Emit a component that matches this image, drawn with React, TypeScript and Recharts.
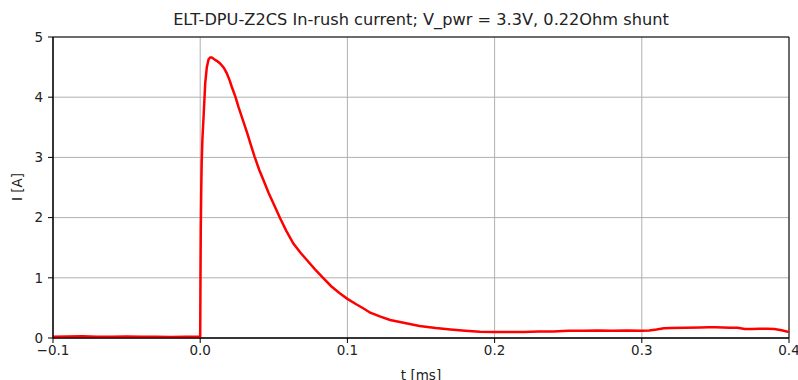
import React from 'react';
import { LineChart, Line, XAxis, YAxis, CartesianGrid, ReferenceArea, Label } from 'recharts';

const timeMs: number[] = [
  -0.1, -0.09, -0.08, -0.07, -0.06, -0.05, -0.04, -0.03, -0.02, -0.01, -0.0005,
  0.0, 0.0002, 0.0004, 0.0007, 0.001, 0.0015, 0.0023, 0.0034, 0.0045, 0.0057, 0.0068,
  0.0079, 0.0095, 0.0115, 0.0135, 0.016, 0.018, 0.02, 0.0215, 0.024, 0.026, 0.029,
  0.032, 0.0345, 0.037, 0.04, 0.043, 0.0465, 0.05, 0.0543, 0.0585, 0.0633, 0.068,
  0.0723, 0.078, 0.0838, 0.089, 0.095, 0.1, 0.106, 0.111, 0.1155, 0.122, 0.129,
  0.139, 0.149, 0.16, 0.17, 0.18, 0.19, 0.2, 0.21, 0.22, 0.23, 0.24, 0.25, 0.26,
  0.27, 0.28, 0.29, 0.3, 0.305, 0.31, 0.315, 0.32, 0.33, 0.34, 0.345, 0.35, 0.36,
  0.365, 0.37, 0.375, 0.38, 0.385, 0.39, 0.395, 0.4,
];

const currentA: number[] = [
  0.02, 0.025, 0.03, 0.022, 0.02, 0.025, 0.022, 0.02, 0.018, 0.02, 0.02,
  0.02, 1.0, 1.8, 2.45, 2.9, 3.3, 3.68, 4.23, 4.5, 4.63, 4.66,
  4.66, 4.63, 4.6, 4.56, 4.49, 4.4, 4.28, 4.17, 4.0, 3.84, 3.62,
  3.4, 3.2, 3.01, 2.8, 2.62, 2.41, 2.22, 1.99, 1.78, 1.57, 1.42,
  1.3, 1.14, 0.99, 0.86, 0.74, 0.65, 0.56, 0.49, 0.42, 0.36, 0.3,
  0.25, 0.2, 0.165, 0.14, 0.12, 0.105, 0.1, 0.1, 0.1, 0.11, 0.11, 0.12, 0.12,
  0.125, 0.12, 0.125, 0.12, 0.125, 0.14, 0.16, 0.165, 0.17, 0.175, 0.18, 0.18, 0.17,
  0.17, 0.15, 0.15, 0.155, 0.155, 0.15, 0.13, 0.1,
];

const xTicks = [-0.1, 0.0, 0.1, 0.2, 0.3, 0.4];
const yTicks = [0, 1, 2, 3, 4, 5];

const data = timeMs.map((t, i) => ({ t, i: currentA[i] }));

const FONT = '"DejaVu Sans", sans-serif';
const TICK = { fontSize: 13.5, fill: '#222', fontFamily: FONT };

const fmtX = (v: number) => (v < 0 ? '\u2212' + Math.abs(v).toFixed(1) : v.toFixed(1));

export default function App() {
  return (
    <div style={{ position: 'relative', width: 798, height: 380, overflow: 'hidden', background: '#fff' }}>
      <style>{'body{margin:0}'}</style>
      <div
        style={{
          position: 'absolute',
          left: 53,
          width: 736,
          top: 10,
          textAlign: 'center',
          fontFamily: FONT,
          fontSize: 16.2,
          color: '#222',
          lineHeight: '20px',
          whiteSpace: 'nowrap',
        }}
      >
        ELT-DPU-Z2CS In-rush current; V_pwr = 3.3V, 0.22Ohm shunt
      </div>
      <LineChart width={798} height={380} data={data} margin={{ top: 37, right: 9, left: 0, bottom: 0 }}>
        <CartesianGrid stroke="#b0b0b0" strokeWidth={1} horizontalValues={yTicks} verticalValues={xTicks} />
        <XAxis
          dataKey="t"
          type="number"
          domain={[-0.1, 0.4]}
          ticks={xTicks}
          tickFormatter={fmtX}
          allowDataOverflow
          height={42}
          stroke="#000"
          tickSize={5}
          tickMargin={2}
          tick={TICK}
        >
          <Label value="t [ms]" position="insideBottom" offset={0} style={TICK} />
        </XAxis>
        <YAxis
          type="number"
          domain={[0, 5]}
          ticks={yTicks}
          allowDataOverflow
          width={53}
          stroke="#000"
          tickSize={5}
          tickMargin={5}
          tick={TICK}
        >
          <Label
            content={() => (
              <text
                x={17}
                y={187}
                transform="rotate(-90, 17, 187)"
                textAnchor="middle"
                dominantBaseline="central"
                style={TICK}
              >
                I [A]
              </text>
            )}
          />
        </YAxis>
        <ReferenceArea x1={-0.1} x2={0.4} y1={0} y2={5} fill="none" stroke="#000" strokeWidth={1} />
        <Line
          type="linear"
          dataKey="i"
          stroke="#ff0000"
          strokeWidth={2.5}
          dot={false}
          isAnimationActive={false}
        />
      </LineChart>
    </div>
  );
}
